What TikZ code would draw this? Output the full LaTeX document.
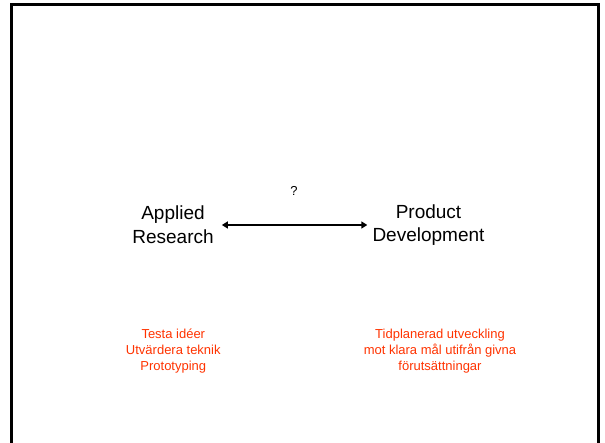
\documentclass[tikz,border=0pt]{standalone}
\usepackage{fontspec}
\setmainfont{Liberation Sans}
\usetikzlibrary{arrows.meta}
\definecolor{accentred}{RGB}{255,51,0}
\begin{document}
\begin{tikzpicture}[x=1pt,y=-1pt,
  big/.style={align=center,inner sep=0pt,font=\fontsize{19}{23.7}\selectfont},
  note/.style={align=center,inner sep=0pt,text=accentred,font=\fontsize{13}{15.7}\selectfont},
  frame/.style={line width=3pt,black}]
\useasboundingbox (0,0) rectangle (605,443);
\fill[white] (0,0) rectangle (605,443);
\draw[frame] (11,444) -- (11,4.5) -- (598.5,4.5) -- (598.5,444);
\node[big] (ar) at (173,225) {Applied\\Research};
\node[big] (pd) at (428.5,225) {Product\\Development};
\node[font=\fontsize{13}{15}\selectfont,inner sep=0pt] (q) at (294,191) {?};
\draw[line width=2pt,{Triangle[length=6pt,width=7pt]}-{Triangle[length=6pt,width=7pt]},shorten <=8pt,shorten >=5pt] (ar.east) -- (pd.west);
\node[note] (l) at (173.3,351) {Testa idéer\\Utvärdera teknik\\Prototyping};
\node[note] (r) at (440,351) {Tidplanerad utveckling\\mot klara mål utifrån givna\\förutsättningar};
\end{tikzpicture}
\end{document}
